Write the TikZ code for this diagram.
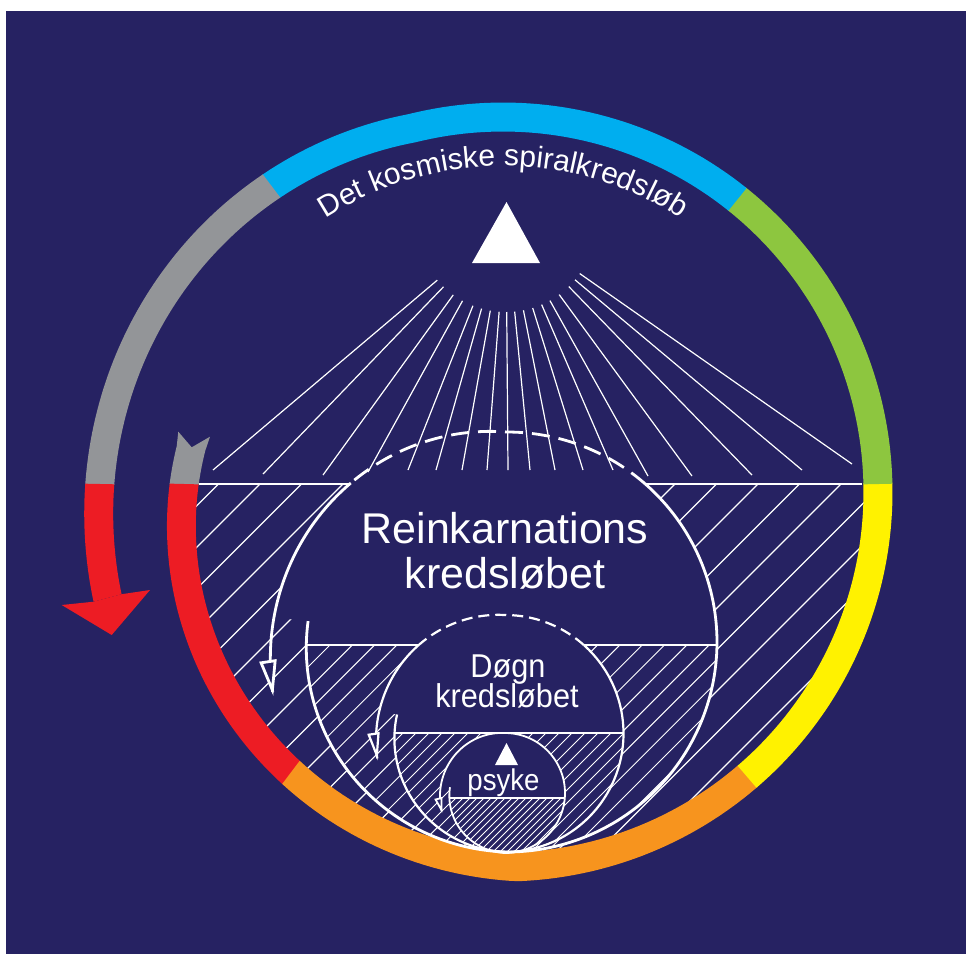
\documentclass[tikz,border=0pt]{standalone}
\usepackage{fontspec}
\setmainfont{Liberation Sans}
\usetikzlibrary{decorations.text,arrows.meta}
\definecolor{navy}{RGB}{38,34,98}
\definecolor{ringred}{RGB}{237,28,36}
\definecolor{ringorange}{RGB}{247,148,30}
\definecolor{ringyellow}{RGB}{255,242,0}
\definecolor{ringgreen}{RGB}{141,198,63}
\definecolor{ringblue}{RGB}{0,174,239}
\definecolor{ringgray}{RGB}{147,149,152}
\pgfmathdeclarefunction{rr}{1}{\pgfmathparse{375-max(0,272-#1)*0.6+max(0,#1-464)*0.378}}
\pgfmathdeclarefunction{rb}{1}{\pgfmathparse{210-max(0,270-#1)*0.104+max(0,#1-450)*0.29}}
\pgfmathdeclarefunction{rd}{1}{\pgfmathparse{118.5-max(0,270-#1)*0.089+max(0,#1-450)*0.115}}
\pgfmathdeclarefunction{rp}{1}{\pgfmathparse{60-max(0,270-#1)*0.049+max(0,#1-450)*0.055}}
\tikzset{
  ray/.style={white,line width=1.2},
  hatchA/.style={white,line width=1.1},
  hatchB/.style={white,line width=1.0},
  hatchC/.style={white,line width=0.9},
  hatchD/.style={white,line width=0.8},
  bigline/.style={white,line width=2.8},
  dline/.style={white,line width=2.2},
  pline/.style={white,line width=1.8},
  lbl/.style={text=white,inner sep=0pt,anchor=base}
}
\newcommand\hatchlines[4]{\foreach \k in {0,...,#3}{\pgfmathsetmacro\cc{#1+\k*#2}\draw[#4] ({\cc-400},400) -- ({\cc-900},900);}}
\newcommand\ringseg[3]{\fill[#1] plot[domain=#2:#3,samples=60,variable=\t]({503+(rr(\t)+14.5)*cos(\t)},{492-(rr(\t)+14.5)*sin(\t)}) -- plot[domain=#3:#2,samples=60,variable=\t]({503+(rr(\t)-14.5)*cos(\t)},{492-(rr(\t)-14.5)*sin(\t)}) -- cycle;}
\newcommand\Eone[1]{\path[#1] plot[domain=494.5:534,samples=50,variable=\t]({507+rb(\t)*cos(\t)},{642-rb(\t)*sin(\t)}) -- plot[domain=174:408.8,samples=120,variable=\t]({507+rb(\t)*cos(\t)},{642-rb(\t)*sin(\t)}) -- cycle;}
\newcommand\Etwo[1]{\path[#1] plot[domain=494.2:530,samples=40,variable=\t]({505+rd(\t)*cos(\t)},{733.5-rd(\t)*sin(\t)}) -- plot[domain=170:408.3,samples=100,variable=\t]({505+rd(\t)*cos(\t)},{733.5-rd(\t)*sin(\t)}) -- cycle;}
\newcommand\Ethree[1]{\path[#1] plot[domain=450:534,samples=40,variable=\t]({505+rp(\t)*cos(\t)},{793-rp(\t)*sin(\t)}) -- plot[domain=174:450,samples=100,variable=\t]({505+rp(\t)*cos(\t)},{793-rp(\t)*sin(\t)}) -- cycle;}
\begin{document}
\begin{tikzpicture}[x=1pt,y=-1pt]
\useasboundingbox (0,0) rectangle (966,954);
\fill[white] (0,0) rectangle (966,954);
\fill[navy] (6,11) rectangle (966,954);
% rays
\foreach \bx/\by in {213/470,263/474,323/475,368/472,408/470,436/470,462/470,487/470,508/470,530/470,555/470,583/470,613/470,648/476,692/476,752/475,802/470,852/464}{
  \pgfmathsetmacro\ang{atan2(\by-222,\bx-506)}
  \draw[ray] ({506+90*cos(\ang)},{222+90*sin(\ang)}) -- (\bx,\by);
}
% level 1 hatch
\begin{scope}
  \path[clip] plot[domain=178.56:361.22,samples=100,variable=\t]({503+rr(\t)*cos(\t)},{492-rr(\t)*sin(\t)}) -- cycle;
  \hatchlines{619.5}{41.5}{28}{hatchA}
\end{scope}
\Eone{fill=navy}
\begin{scope}
  \Eone{clip}
  \clip (0,645) rectangle (966,954);
  \hatchlines{930.4}{22.3}{29}{hatchB}
\end{scope}
\Etwo{fill=navy}
\begin{scope}
  \Etwo{clip}
  \clip (0,733) rectangle (966,954);
  \hatchlines{1110}{13}{29}{hatchC}
\end{scope}
\Ethree{fill=navy}
\begin{scope}
  \Ethree{clip}
  \clip (0,798) rectangle (966,954);
  \hatchlines{1240}{7}{27}{hatchD}
\end{scope}
% ring
\fill[ringgray] plot[domain=178.7:172,samples=10,variable=\t]({503+(rr(\t)+14.5)*cos(\t)},{492-(rr(\t)+14.5)*sin(\t)}) -- (178.3,431.7) -- (191.7,447.3) -- (210,436.7) -- plot[domain=172:178.7,samples=10,variable=\t]({503+(rr(\t)-14.5)*cos(\t)},{492-(rr(\t)-14.5)*sin(\t)}) -- cycle;
\ringseg{ringred}{178.56}{233.1}
\ringseg{ringorange}{232.9}{310.8}
\ringseg{ringyellow}{310.6}{361.4}
\ringseg{ringgreen}{361.22}{411.5}
\ringseg{ringblue}{411.3}{487.3}
\ringseg{ringgray}{487.1}{539}
\ringseg{ringred}{538.86}{555}
\fill[ringred] (93.5,601.7) -- (61.7,605) -- (111.7,635) -- (150,590) -- (121.6,594.2) -- cycle;
% horizon lines
\draw[white,line width=2.5] (199,484) -- (351,484);
\draw[white,line width=2.5] (645,484) -- (862,484);
\draw[white,line width=2.0] (307,645) -- (419,645);
\draw[white,line width=2.0] (584,645) -- (717,645);
\draw[white,line width=1.8] (395,733) -- (623.5,733);
\draw[white,line width=1.5] (449.5,798) -- (564.5,798);
% big spiral
\draw[bigline] plot[domain=174:408.8,samples=150,variable=\t]({507+rb(\t)*cos(\t)},{642-rb(\t)*sin(\t)});
\draw[bigline,dash pattern=on 18 off 9] plot[domain=408.8:494.5,samples=80,variable=\t]({507+rb(\t)*cos(\t)},{642-rb(\t)*sin(\t)});
\draw[bigline,-{Triangle[length=36,width=17,fill=navy]}] plot[domain=494.5:553,samples=60,variable=\t]({507+rb(\t)*cos(\t)},{642-rb(\t)*sin(\t)});
% dogn spiral
\draw[dline] plot[domain=170:408.3,samples=150,variable=\t]({505+rd(\t)*cos(\t)},{733.5-rd(\t)*sin(\t)});
\draw[dline,dash pattern=on 11 off 6] plot[domain=408.3:494.2,samples=80,variable=\t]({505+rd(\t)*cos(\t)},{733.5-rd(\t)*sin(\t)});
\draw[dline,-{Triangle[length=28,width=12,fill=navy]}] plot[domain=494.2:552,samples=60,variable=\t]({505+rd(\t)*cos(\t)},{733.5-rd(\t)*sin(\t)});
% psyke spiral
\draw[pline,-{Triangle[length=16,width=8,fill=navy]}] plot[domain=174:558,samples=200,variable=\t]({505+rp(\t)*cos(\t)},{793-rp(\t)*sin(\t)});
% triangles
\fill[white] (506.5,202) -- (540,263) -- (472,263) -- cycle;
\fill[white] (506.5,743) -- (518,765) -- (495,765) -- cycle;
% texts
\path[decorate,decoration={text along path,text color=white,text align=center,text={|\fontsize{30}{30}\selectfont|Det kosmiske spiralkredsløb}}] (503,492) ++(-140:326) arc[start angle=-140,end angle=-40,radius=326];
\node[lbl,font=\fontsize{43}{43}\selectfont] (rein) at (505,543) {Reinkarnations};
\node[lbl,font=\fontsize{43}{43}\selectfont] (kredA) at (505,588) {kredsløbet};
\node[lbl,font=\fontsize{33}{33}\selectfont,xscale=0.93] (dogn) at (508,677) {Døgn};
\node[lbl,font=\fontsize{33}{33}\selectfont,xscale=0.93] (kredB) at (507,707) {kredsløbet};
\node[lbl,font=\fontsize{30}{30}\selectfont,xscale=0.92] (psyke) at (503.5,790) {psyke};
\end{tikzpicture}
\end{document}
